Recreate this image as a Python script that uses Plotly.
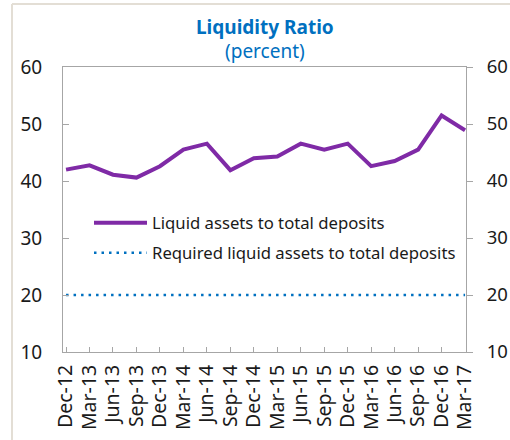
import plotly.graph_objects as go

quarters = ["Dec-12", "Mar-13", "Jun-13", "Sep-13", "Dec-13", "Mar-14", "Jun-14", "Sep-14",
            "Dec-14", "Mar-15", "Jun-15", "Sep-15", "Dec-15", "Mar-16", "Jun-16", "Sep-16",
            "Dec-16", "Mar-17"]
liquid_assets = [42.0, 42.75, 41.1, 40.6, 42.6, 45.5, 46.55, 41.9, 44.0, 44.3, 46.55, 45.5,
                 46.55, 42.6, 43.5, 45.5, 51.5, 48.9]
required_liquid = [20] * len(quarters)

FONT = "Noto Sans"
GRAY = "#A6A6A6"
TXT = "#1a1a1a"

L, R, T, B = 63, 44, 67, 88
W, H = 510, 440
pw, ph = W - L - R, H - T - B


def px(x):
    return (x - L) / pw


def py(y):
    return (H - B - y) / ph


fig = go.Figure()
fig.add_trace(go.Scatter(
    x=quarters, y=liquid_assets, mode="lines",
    name="Liquid assets to total deposits",
    line=dict(color="#7F2AA6", width=4),
    legend="legend",
))
fig.add_trace(go.Scatter(
    x=quarters, y=required_liquid, mode="lines",
    name="Required liquid assets to total deposits",
    line=dict(color="#0070C0", width=2.5, dash="2.5px,5px"),
    yaxis="y2", legend="legend2",
))

leg_common = dict(xanchor="left", yanchor="middle", bgcolor="rgba(0,0,0,0)",
                  font=dict(size=16.7, family=FONT, color=TXT), itemwidth=53)

fig.update_layout(
    width=W, height=H,
    margin=dict(l=L, r=R, t=T, b=B, autoexpand=False),
    paper_bgcolor="white", plot_bgcolor="white",
    font=dict(family=FONT, size=16, color=TXT),
    showlegend=True,
    legend=dict(x=px(89), y=py(223), **leg_common),
    legend2=dict(x=px(89), y=py(253), **leg_common),
    xaxis=dict(type="category", range=[-0.13, 17.04], showline=True, linecolor=GRAY,
               linewidth=1, mirror=True, ticks="inside", ticklen=5, tickcolor=GRAY,
               tickmode="array", tickvals=quarters, ticktext=quarters,
               tickangle=-90, showgrid=False, zeroline=False, automargin=False,
               ticklabelstandoff=4,
               tickfont=dict(size=19.5, family=FONT, color=TXT)),
    yaxis=dict(range=[10, 60], dtick=10, showline=True, linecolor=GRAY, linewidth=1,
               ticks="inside", ticklen=6, tickcolor=GRAY, showgrid=False, zeroline=False,
               automargin=False, ticklabelstandoff=16,
               tickfont=dict(size=19, family=FONT, color=TXT)),
    yaxis2=dict(range=[10, 60], dtick=10, overlaying="y", side="right", showline=True,
                linecolor=GRAY, linewidth=1, ticks="outside", ticklen=6, tickcolor=GRAY,
                showgrid=False, zeroline=False, automargin=False, ticklabelstandoff=10,
                tickfont=dict(size=18.5, family=FONT, color=TXT)),
    annotations=[
        dict(text="<b>Liquidity Ratio</b>", x=0.5, y=py(27), xref="paper", yref="paper",
             showarrow=False, yanchor="middle",
             font=dict(size=19, family=FONT, color="#0070C0")),
        dict(text="(percent)", x=0.5, y=py(51), xref="paper", yref="paper",
             showarrow=False, yanchor="middle",
             font=dict(size=19, family=FONT, color="#0070C0")),
    ],
    shapes=[
        dict(type="line", xref="paper", yref="paper", x0=px(12), x1=px(12),
             y0=py(4), y1=py(445), line=dict(color="#E3DED5", width=2)),
        dict(type="line", xref="paper", yref="paper", x0=px(12), x1=px(515),
             y0=py(4), y1=py(4), line=dict(color="#E3DED5", width=2)),
    ],
)

fig.write_html("out.html", config={"displayModeBar": False},
               post_script="document.body.style.margin='0';document.body.style.overflow='hidden';")
